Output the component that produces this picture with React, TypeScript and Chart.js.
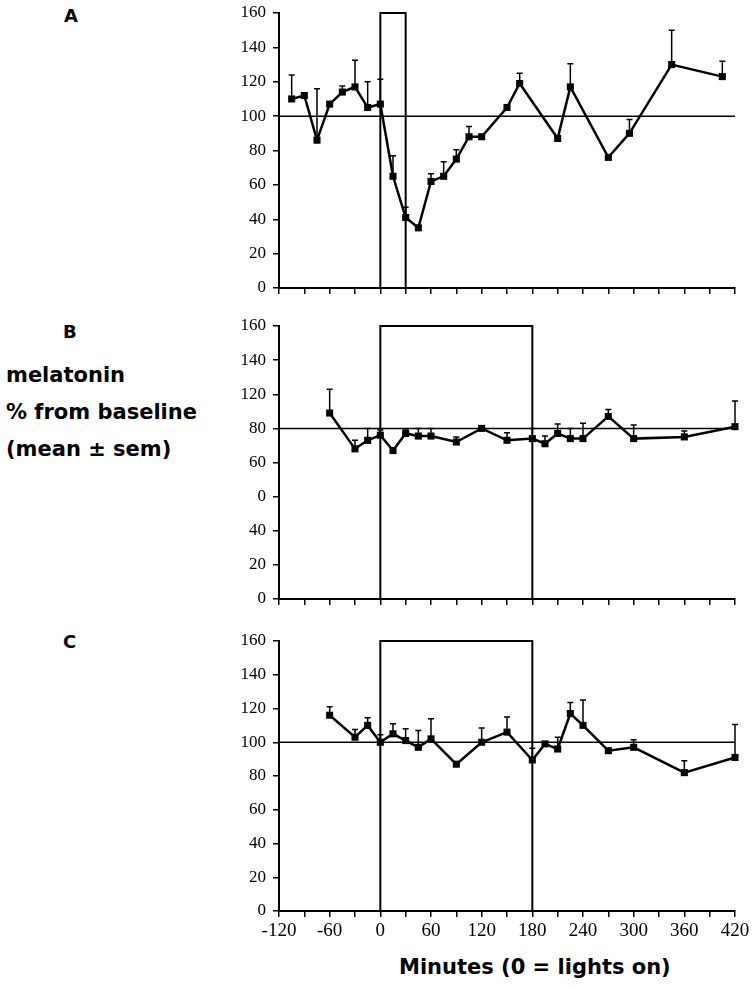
import React, { useEffect, useRef } from "react";
import { Chart, registerables } from "chart.js";

Chart.register(...registerables);

// ---------- data ----------
const X_MIN = -120;
const X_MAX = 420;
const Y_MIN = 0;
const Y_MAX = 160;
const BASELINE = 100;

const TIMES_A = [-105, -90, -75, -60, -45, -30, -15, 0, 15, 30, 45, 60, 75, 90, 105, 120, 150, 165, 210, 225, 270, 295, 345, 405];
const MEAN_A = [110, 112, 86, 107, 114, 117, 105, 107, 65, 41, 35, 62, 65, 75, 88, 88, 105, 119, 87, 117, 76, 90, 130, 123];
const SEM_A = [14, 0, 30, 0, 3.5, 15.5, 15, 14.5, 12, 6, 0, 4.5, 8.5, 5.5, 6, 0, 0, 6, 0, 13.5, 0, 8, 20, 9];
const LIGHTS_A = [0, 30];

const TIMES_B = [-60, -30, -15, 0, 15, 30, 45, 60, 90, 120, 150, 180, 195, 210, 225, 240, 270, 300, 360, 420];
const MEAN_B = [109, 88, 93, 96, 87, 97, 95.5, 95.5, 92, 100, 93, 94, 91, 97, 94, 94, 107, 94, 95, 101];
const SEM_B = [14, 5, 7, 3, 0, 2, 4.5, 4.5, 3, 0, 4.5, 6, 4.5, 5.5, 6, 9, 4, 8, 3.5, 15];
const LIGHTS_B = [0, 180];

const TIMES_C = [-60, -30, -15, 0, 15, 30, 45, 60, 90, 120, 150, 180, 195, 210, 225, 240, 270, 300, 360, 420];
const MEAN_C = [116, 103, 110, 100, 105, 101, 97, 102, 87, 100, 106, 89.5, 99, 96, 117, 110, 95, 97, 82, 91];
const SEM_C = [5, 4.5, 4.5, 4.5, 6, 7, 10, 12, 0, 8.5, 9, 7, 0, 7, 6.5, 15, 0, 4.5, 7, 19.5];
const LIGHTS_C = [0, 180];

const Y_TICK_VALUES = [0, 20, 40, 60, 80, 100, 120, 140, 160];
const Y_LABELS_A = ["0", "20", "40", "60", "80", "100", "120", "140", "160"];
const Y_LABELS_B = ["0", "20", "40", "0", "60", "80", "120", "140", "160"];
const Y_LABELS_C = ["0", "20", "40", "60", "80", "100", "120", "140", "160"];
const X_LABELS = ["-120", "-60", "0", "60", "120", "180", "240", "300", "360", "420"];

// ---------- plugin for upward error bars ----------
const errorBarPlugin = {
  id: "errorBars",
  afterDatasetsDraw(chart: any) {
    const ctx = chart.ctx;
    const xs = chart.scales.x;
    const ys = chart.scales.y;
    chart.data.datasets.forEach((ds: any) => {
      if (!ds.sem) return;
      ctx.save();
      ctx.strokeStyle = "#000";
      ctx.lineWidth = 1.5;
      ds.data.forEach((pt: any, i: number) => {
        const s = ds.sem[i];
        if (!s) return;
        const x = xs.getPixelForValue(pt.x);
        const y0 = ys.getPixelForValue(pt.y);
        const y1 = ys.getPixelForValue(pt.y + s);
        ctx.beginPath();
        ctx.moveTo(x, y0);
        ctx.lineTo(x, y1);
        ctx.moveTo(x - 3, y1);
        ctx.lineTo(x + 3, y1);
        ctx.stroke();
      });
      ctx.restore();
    });
  },
};

type PanelProps = {
  times: number[];
  means: number[];
  sems: number[];
  lights: number[];
  yLabels: string[];
  showX: boolean;
  top: number;
  height: number;
  plotTop: number;
  plotHeight: number;
};

const CANVAS_LEFT = 200;
const CANVAS_WIDTH = 556;
const Y_AXIS_WIDTH = 79;
const RIGHT_PAD = 21;

function Panel(p: PanelProps) {
  const ref = useRef<HTMLCanvasElement | null>(null);
  useEffect(() => {
    if (!ref.current) return;
    const series = p.times.map((t, i) => ({ x: t, y: p.means[i] }));
    const box = [
      { x: p.lights[0], y: Y_MIN },
      { x: p.lights[0], y: Y_MAX },
      { x: p.lights[1], y: Y_MAX },
      { x: p.lights[1], y: Y_MIN },
    ];
    const ref100 = [
      { x: X_MIN, y: BASELINE },
      { x: X_MAX, y: BASELINE },
    ];
    const xAxisH = p.height - p.plotTop - p.plotHeight;
    const serif = "'Liberation Serif', 'Times New Roman', serif";
    const chart = new Chart(ref.current, {
      type: "scatter",
      data: {
        datasets: [
          {
            data: ref100,
            showLine: true,
            borderColor: "#000",
            borderWidth: 1.5,
            pointRadius: 0,
            clip: false,
          } as any,
          {
            data: box,
            showLine: true,
            borderColor: "#000",
            borderWidth: 2,
            pointRadius: 0,
            clip: false,
          } as any,
          {
            data: series,
            showLine: true,
            borderColor: "#000",
            backgroundColor: "#000",
            borderWidth: 2.5,
            pointStyle: "rect",
            pointRadius: 5,
            pointBorderWidth: 0,
            clip: false,
            sem: p.sems,
          } as any,
        ],
      },
      options: {
        animation: false,
        responsive: false,
        maintainAspectRatio: false,
        events: [],
        layout: { padding: { top: p.plotTop, right: RIGHT_PAD, left: 0, bottom: 0 } },
        plugins: { legend: { display: false }, tooltip: { enabled: false }, title: { display: false } },
        scales: {
          x: {
            type: "linear",
            min: X_MIN,
            max: X_MAX,
            afterBuildTicks: (scale: any) => {
              const t = [];
              for (let v = X_MIN; v <= X_MAX; v += 30) t.push({ value: v });
              scale.ticks = t;
            },
            ticks: {
              autoSkip: false,
              maxRotation: 0,
              color: "#000",
              font: { family: serif, size: 19 },
              padding: 3,
              callback: (v: any) => {
                if (!p.showX) return "";
                const idx = X_LABELS.indexOf(String(v));
                return idx >= 0 ? X_LABELS[idx] : "";
              },
            },
            grid: { drawOnChartArea: false, drawTicks: true, tickLength: 6, color: "#000", lineWidth: 1.5 },
            border: { display: true, color: "#000", width: 2 },
            afterFit: (s: any) => {
              s.height = xAxisH;
              s.paddingLeft = 0;
              s.paddingRight = 0;
            },
          },
          y: {
            type: "linear",
            min: Y_MIN,
            max: Y_MAX,
            afterBuildTicks: (scale: any) => {
              scale.ticks = Y_TICK_VALUES.map((v) => ({ value: v }));
            },
            ticks: {
              autoSkip: false,
              color: "#000",
              font: { family: serif, size: 17 },
              padding: 7,
              callback: (v: any) => {
                const idx = Y_TICK_VALUES.indexOf(Number(v));
                return idx >= 0 ? p.yLabels[idx] : "";
              },
            },
            grid: { drawOnChartArea: false, drawTicks: true, tickLength: 6, color: "#000", lineWidth: 1.5 },
            border: { display: true, color: "#000", width: 2 },
            afterFit: (s: any) => {
              s.width = Y_AXIS_WIDTH;
              s.paddingTop = 0;
              s.paddingBottom = 0;
            },
          },
        },
      } as any,
      plugins: [errorBarPlugin],
    });
    return () => chart.destroy();
  }, []);
  return (
    <canvas
      ref={ref}
      width={CANVAS_WIDTH}
      height={p.height}
      style={{ position: "absolute", left: CANVAS_LEFT, top: p.top, width: CANVAS_WIDTH, height: p.height }}
    />
  );
}

const labelFont: React.CSSProperties = {
  position: "absolute",
  fontFamily: "'DejaVu Sans', Verdana, sans-serif",
  fontWeight: "bold",
  color: "#000",
  whiteSpace: "nowrap",
};

export default function App() {
  return (
    <div style={{ position: "fixed", left: 0, top: 0, width: 756, height: 988, background: "#fff", overflow: "hidden" }}>
      <Panel times={TIMES_A} means={MEAN_A} sems={SEM_A} lights={LIGHTS_A} yLabels={Y_LABELS_A} showX={false}
        top={3} height={310} plotTop={10} plotHeight={275} />
      <Panel times={TIMES_B} means={MEAN_B} sems={SEM_B} lights={LIGHTS_B} yLabels={Y_LABELS_B} showX={false}
        top={316} height={310} plotTop={10} plotHeight={273} />
      <Panel times={TIMES_C} means={MEAN_C} sems={SEM_C} lights={LIGHTS_C} yLabels={Y_LABELS_C} showX={true}
        top={631} height={320} plotTop={10} plotHeight={270} />
      <div style={{ ...labelFont, left: 64, top: 5, fontSize: 18 }}>A</div>
      <div style={{ ...labelFont, left: 63, top: 321, fontSize: 18 }}>B</div>
      <div style={{ ...labelFont, left: 63, top: 631, fontSize: 18 }}>C</div>
      <div style={{ ...labelFont, left: 6, top: 357, fontSize: 21, lineHeight: "37px" }}>
        melatonin
        <br />% from baseline
        <br />(mean ± sem)
      </div>
      <div style={{ ...labelFont, left: 399, top: 955, fontSize: 21 }}>Minutes (0 = lights on)</div>
    </div>
  );
}
